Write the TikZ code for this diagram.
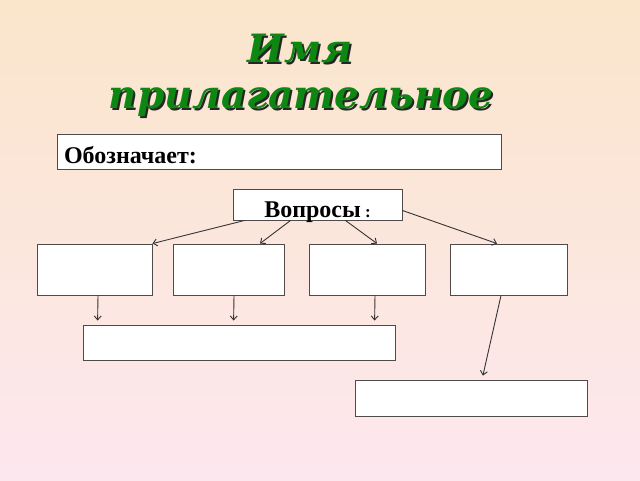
\documentclass[tikz,border=0pt]{standalone}
\usepackage{fontspec}
\setmainfont{Liberation Serif}
\newfontfamily\titlefont{DejaVu Serif}
\usetikzlibrary{arrows.meta}

\definecolor{bgtop}{RGB}{250,230,203}
\definecolor{bgbottom}{RGB}{253,231,239}
\definecolor{titlegreen}{RGB}{14,135,18}
\definecolor{framegray}{RGB}{80,75,75}

\tikzset{
  box/.style={draw=framegray, line width=0.9pt, fill=white, inner sep=0pt},
  arr/.style={draw=black!80, line width=0.9pt, -{Straight Barb[length=4pt,width=7pt]}}
}

\begin{document}
\begin{tikzpicture}[x=1pt, y=-1pt]
    \useasboundingbox (0,0) rectangle (640,480);
    % Draw background
    \shade[top color=bgtop, bottom color=bgbottom] (0,0) rectangle (640,480);

    % Title with shadow
    \foreach \dx/\col in {2/black!85, 0/titlegreen} {
      \node[anchor=base, text=\col, font=\titlefont\bfseries\itshape\fontsize{39}{39}\selectfont] (name\dx) at (300+\dx,62+\dx) {Имя};
      \node[anchor=base, text=\col, font=\titlefont\bfseries\itshape\fontsize{39}{39}\selectfont] (adj\dx) at (301+\dx,108+\dx) {прилагательное};
    }

    % Boxes with text
    \node[box, minimum width=444pt, minimum height=35pt, text width=430pt, align=left, text height=23pt, text depth=0pt, font=\bfseries\fontsize{24}{24}\selectfont] (mean) at (279,151.5) {Обозначает:};
    \node[box, minimum width=169pt, minimum height=31pt, text height=25pt, text depth=0pt, font=\bfseries\fontsize{24}{24}\selectfont] (quest) at (317.5,204.5) {Вопросы{\fontsize{17}{17}\selectfont\ :}};

    % Empty boxes
    \foreach \n/\x/\w in {1/94.5/115, 2/228.5/111, 3/367/116, 4/508.5/117} {
      \node[box, minimum width=\w pt, minimum height=51pt] (b\n) at (\x,269.5) {};
    }
    \node[box, minimum width=312pt, minimum height=35pt] (joint) at (239,342.5) {};
    \node[box, minimum width=232pt, minimum height=36pt] (last) at (471,398) {};

    % Arrows from the questions
    \draw[arr] ([xshift=12pt]quest.south west) -- (b1.north east);
    \draw[arr] ([xshift=58pt]quest.south west) -- ([xshift=31.5pt]b2.north);
    \draw[arr] ([xshift=-57pt]quest.south east) -- ([xshift=10pt]b3.north);
    \draw[arr] ([yshift=-6pt]quest.east) -- ([xshift=-11.5pt]b4.north);

    % Arrows down
    \draw[arr, shorten >=4pt] ([xshift=3.5pt]b1.south) -- ([xshift=15pt]joint.north west);
    \draw[arr, shorten >=4pt] ([xshift=5.5pt]b2.south) -- ([xshift=151pt]joint.north west);
    \draw[arr, shorten >=4pt] ([xshift=8pt]b3.south) -- ([xshift=292pt]joint.north west);
    \draw[arr, shorten >=4pt] ([xshift=-7.5pt]b4.south) -- ([xshift=11pt]last.north);
\end{tikzpicture}
\end{document}
